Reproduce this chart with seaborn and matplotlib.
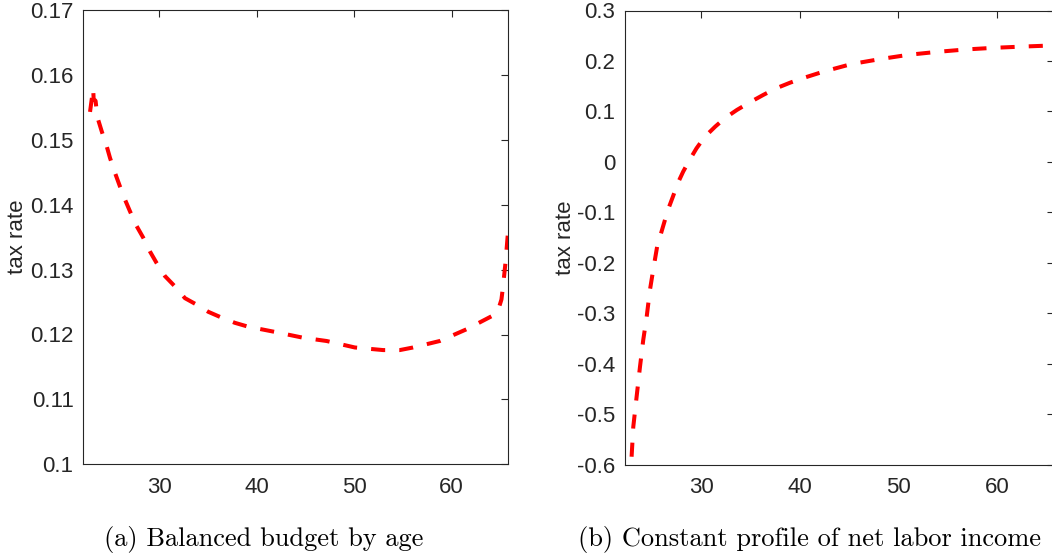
import matplotlib
matplotlib.use("Agg")
import matplotlib.pyplot as plt
import seaborn as sns

# ---------------- data ----------------
age_a = [22.93, 23.25, 23.30, 23.50, 23.68, 24.13, 24.64, 24.98, 25.49, 26.00,
         26.51, 27.02, 27.71, 28.39, 29.07, 29.76, 30.61, 31.64, 32.66, 33.86,
         35.05, 36.42, 37.78, 39.15, 40.52, 41.88, 44.78, 47.18, 50.08, 52.98,
         54.69, 56.05, 58.79, 61.52, 64.08, 64.76, 65.11, 65.27, 65.45, 65.55, 65.79]
rate_a = [0.1543, 0.1579, 0.1563, 0.1560, 0.1535, 0.1513, 0.1490, 0.1472, 0.1449, 0.1428,
          0.1408, 0.1390, 0.1367, 0.1349, 0.1328, 0.1310, 0.1290, 0.1274, 0.1256, 0.1246,
          0.1235, 0.1226, 0.1218, 0.1212, 0.1208, 0.1204, 0.1195, 0.1190, 0.1180, 0.1176,
          0.1176, 0.1180, 0.1190, 0.1208, 0.1228, 0.1237, 0.1254, 0.1274, 0.1300, 0.1315, 0.1360]

age_b = [22.91, 23.08, 23.42, 23.76, 24.09, 24.44, 24.77, 25.10, 25.50, 26.10,
         26.60, 27.10, 27.60, 28.15, 28.80, 29.50, 30.35, 31.40, 32.40, 33.60,
         34.90, 36.30, 37.60, 39.00, 40.30, 42.40, 45.25, 48.10, 51.00, 53.90,
         56.75, 59.60, 62.70, 65.40, 65.80]
rate_b = [-0.584, -0.525, -0.465, -0.406, -0.353, -0.307, -0.254, -0.214, -0.168, -0.128,
          -0.095, -0.069, -0.042, -0.019, 0.004, 0.027, 0.050, 0.070, 0.087, 0.103,
          0.118, 0.133, 0.146, 0.157, 0.166, 0.179, 0.194, 0.2036, 0.2122, 0.218,
          0.2227, 0.226, 0.2286, 0.2306, 0.2309]

xticks = [30, 40, 50, 60]
xticklabels = ["30", "40", "50", "60"]
yticks_a = [0.10, 0.11, 0.12, 0.13, 0.14, 0.15, 0.16, 0.17]
yticklabels_a = ["0.1", "0.11", "0.12", "0.13", "0.14", "0.15", "0.16", "0.17"]
yticks_b = [-0.6, -0.5, -0.4, -0.3, -0.2, -0.1, 0.0, 0.1, 0.2, 0.3]
yticklabels_b = ["-0.6", "-0.5", "-0.4", "-0.3", "-0.2", "-0.1", "0", "0.1", "0.2", "0.3"]
ylabel = "tax rate"
caption_a = "(a) Balanced budget by age"
caption_b = "(b) Constant profile of net labor income"

# ---------------- style ----------------
sns.set_style("white")
axcol = "#262626"
plt.rcParams["font.family"] = ["Liberation Sans", "DejaVu Sans"]
plt.rcParams["axes.unicode_minus"] = False
plt.rcParams["axes.edgecolor"] = axcol
plt.rcParams["axes.linewidth"] = 0.8

W, H = 1052, 553
fig = plt.figure(figsize=(W / 100, H / 100), dpi=100)

ax_a = fig.add_axes([83.3 / W, 1 - 464.3 / H, (507.7 - 83.3) / W, (464.3 - 10.0) / H])
ax_b = fig.add_axes([625.0 / W, 1 - 464.8 / H, (1053.6 - 625.0) / W, (464.8 - 10.5) / H])

line_kw = dict(color="#ff0000", lw=2.9, linestyle=(0, (3.5, 3.5)), sort=False,
               estimator=None, legend=False)
sns.lineplot(x=age_a, y=rate_a, ax=ax_a, **line_kw)
sns.lineplot(x=age_b, y=rate_b, ax=ax_b, **line_kw)

FS = 16
for ax, yt, ytl, ylim in [(ax_a, yticks_a, yticklabels_a, (0.10, 0.17)),
                          (ax_b, yticks_b, yticklabels_b, (-0.6, 0.3))]:
    ax.set_xlim(22.24, 65.75)
    ax.set_ylim(*ylim)
    ax.set_xticks(xticks, xticklabels)
    ax.set_yticks(yt, ytl)
    ax.tick_params(axis="both", direction="in", length=5, width=0.8,
                   top=True, right=True, color=axcol, labelcolor=axcol,
                   labelsize=FS)
    ax.tick_params(axis="x", pad=9)
    ax.tick_params(axis="y", pad=7)
    for s in ax.spines.values():
        s.set_visible(True)
        s.set_color(axcol)
        s.set_linewidth(0.8)
    ax.set_ylabel(ylabel, fontsize=FS, color=axcol)

ax_a.yaxis.set_label_coords((28.0 - 83.3) / (507.7 - 83.3), 0.5)
ax_b.yaxis.set_label_coords((576.0 - 625.0) / (1053.6 - 625.0), 0.5)

fig.text(264 / W, 1 - 546 / H, caption_a, family="cmr10", fontsize=19,
         ha="center", va="baseline", color="black")
fig.text(809 / W, 1 - 546 / H, caption_b, family="cmr10", fontsize=19,
         ha="center", va="baseline", color="black")

fig.savefig("out.png", dpi=100)
